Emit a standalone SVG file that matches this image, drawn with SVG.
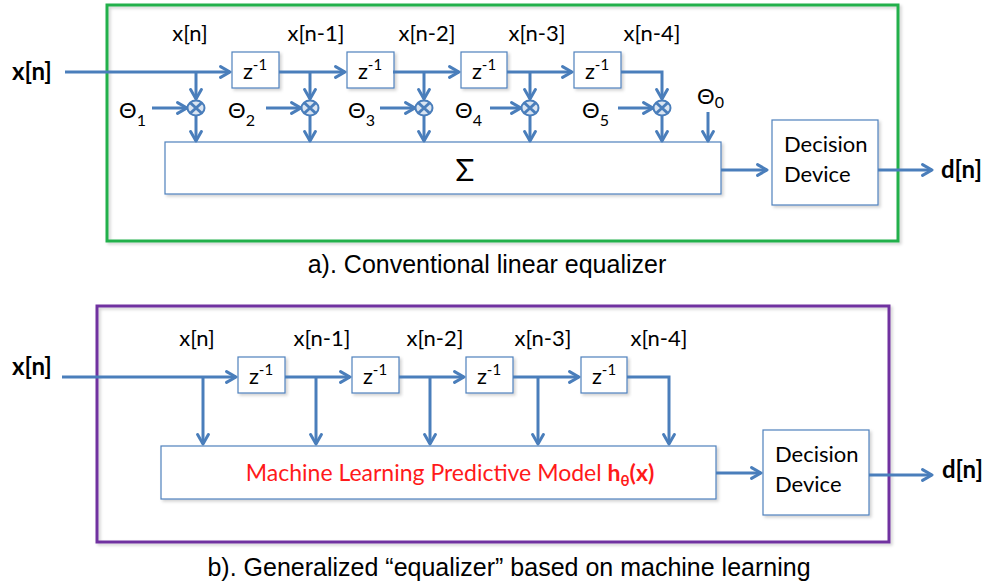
<svg xmlns="http://www.w3.org/2000/svg" width="991" height="584" viewBox="0 0 991 584">
<defs>
  <marker id="ah" viewBox="0 0 10 10" refX="8" refY="5" markerWidth="4.5" markerHeight="4.5" orient="auto" markerUnits="strokeWidth">
    <path d="M1,1 L8,5 L1,9" fill="none" stroke="#4a7ebb" stroke-width="2.2" stroke-linecap="round" stroke-linejoin="round"/>
  </marker>
  <filter id="sh" x="-5%" y="-5%" width="115%" height="120%">
    <feDropShadow dx="2" dy="2" stdDeviation="1.5" flood-color="#000" flood-opacity="0.18"/>
  </filter>
</defs>
<style>
  .lbl{font-family:"Lato","Noto Sans","Liberation Sans",sans-serif;font-size:22px;fill:#000}
  .bold{font-family:"Lato","Noto Sans","Liberation Sans",sans-serif;font-size:24px;font-weight:bold;fill:#000}
  .cap{font-family:"Liberation Sans",Arial,sans-serif;font-size:25px;fill:#000}
  .box{fill:#fff;stroke:#4f81bd;stroke-width:1.2;filter:url(#sh)}
  .wire{fill:none;stroke:#4a7ebb;stroke-width:3}
  .arr{fill:none;stroke:#4a7ebb;stroke-width:3;marker-end:url(#ah)}
  .mul{fill:#dbe5f1;stroke:#4a7ebb;stroke-width:2}
  .red{font-family:"Lato","Noto Sans","Liberation Sans",sans-serif;font-size:23px;fill:#ff1a1a}
</style>
<rect width="991" height="584" fill="#fff"/>

<!-- Panel a -->
<g id="panelA">
  <rect x="107" y="5" width="791" height="236" fill="none" stroke="#22b04b" stroke-width="3" filter="url(#sh)"/>
</g>
<g id="a_input"><text class="bold" x="12" y="80">x[n]</text></g>
<g id="a_output"><text class="bold" x="941" y="178">d[n]</text></g>

<g id="a_labels" class="lbl">
  <text x="190" y="41" text-anchor="middle">x[n]</text>
  <text x="316" y="41" text-anchor="middle">x[n-1]</text>
  <text x="427" y="41" text-anchor="middle">x[n-2]</text>
  <text x="537" y="41" text-anchor="middle">x[n-3]</text>
  <text x="652" y="41" text-anchor="middle">x[n-4]</text>
</g>

<g id="a_z1"><rect class="box" x="232" y="52" width="47" height="36"/><text class="lbl" x="255" y="79" text-anchor="middle">z<tspan font-size="15" dy="-9">-1</tspan></text></g>
<g id="a_z2"><rect class="box" x="347" y="52" width="47" height="36"/><text class="lbl" x="370" y="79" text-anchor="middle">z<tspan font-size="15" dy="-9">-1</tspan></text></g>
<g id="a_z3"><rect class="box" x="461" y="52" width="46" height="36"/><text class="lbl" x="484" y="79" text-anchor="middle">z<tspan font-size="15" dy="-9">-1</tspan></text></g>
<g id="a_z4"><rect class="box" x="574" y="52" width="47" height="36"/><text class="lbl" x="597" y="79" text-anchor="middle">z<tspan font-size="15" dy="-9">-1</tspan></text></g>

<g id="a_sum"><rect class="box" x="165" y="142" width="556" height="52"/><text x="465" y="181" text-anchor="middle" font-family="Lato,'Noto Sans',sans-serif" font-size="31">Σ</text></g>
<g id="a_decision"><rect class="box" x="772" y="120" width="106" height="85"/>
  <text class="lbl" x="784" y="152">Decision</text><text class="lbl" x="784" y="182">Device</text></g>

<g id="a_thetas" class="lbl">
  <text x="119" y="118">Θ<tspan font-size="16" dy="8">1</tspan></text>
  <text x="228" y="118">Θ<tspan font-size="16" dy="8">2</tspan></text>
  <text x="348" y="118">Θ<tspan font-size="16" dy="8">3</tspan></text>
  <text x="455" y="118">Θ<tspan font-size="16" dy="8">4</tspan></text>
  <text x="582" y="118">Θ<tspan font-size="16" dy="8">5</tspan></text>
  <text x="697" y="104">Θ<tspan font-size="16" dy="4">0</tspan></text>
</g>

<g id="a_connectors">
  <path class="arr" d="M65,72 H230"/>
  <path class="arr" d="M279,72 H345"/>
  <path class="arr" d="M393,72 H459"/>
  <path class="arr" d="M507,72 H572"/>
  <path class="arr" d="M621,72 H662 V99"/>
  <path class="arr" d="M196,72 V99"/>
  <path class="arr" d="M310,72 V99"/>
  <path class="arr" d="M424,72 V99"/>
  <path class="arr" d="M530,72 V99"/>
  <path class="arr" d="M152,108 H187"/>
  <path class="arr" d="M266,108 H301"/>
  <path class="arr" d="M380,108 H415"/>
  <path class="arr" d="M490,108 H521"/>
  <path class="arr" d="M618,108 H653"/>
  <path class="arr" d="M196,116 V141"/>
  <path class="arr" d="M310,116 V141"/>
  <path class="arr" d="M424,116 V141"/>
  <path class="arr" d="M530,116 V141"/>
  <path class="arr" d="M662,116 V141"/>
  <path class="arr" d="M708,112 V141"/>
  <path class="arr" d="M721,170 H767"/>
  <path class="arr" d="M878,170 H932"/>
</g>
<g id="a_multipliers">
  <g><ellipse class="mul" cx="196" cy="108" rx="8.5" ry="7.5"/><path class="wire" stroke-width="1.5" d="M190,102.5 L202,113.5 M202,102.5 L190,113.5"/></g>
  <g><ellipse class="mul" cx="310" cy="108" rx="8.5" ry="7.5"/><path class="wire" stroke-width="1.5" d="M304,102.5 L316,113.5 M316,102.5 L304,113.5"/></g>
  <g><ellipse class="mul" cx="424" cy="108" rx="8.5" ry="7.5"/><path class="wire" stroke-width="1.5" d="M418,102.5 L430,113.5 M430,102.5 L418,113.5"/></g>
  <g><ellipse class="mul" cx="530" cy="108" rx="8.5" ry="7.5"/><path class="wire" stroke-width="1.5" d="M524,102.5 L536,113.5 M536,102.5 L524,113.5"/></g>
  <g><ellipse class="mul" cx="662" cy="108" rx="8.5" ry="7.5"/><path class="wire" stroke-width="1.5" d="M656,102.5 L668,113.5 M668,102.5 L656,113.5"/></g>
</g>
<g id="captionA"><text class="cap" x="487" y="273" text-anchor="middle">a). Conventional linear equalizer</text></g>

<!-- Panel b -->
<g id="panelB">
  <rect x="97" y="306" width="792" height="236" fill="none" stroke="#7030a0" stroke-width="3" filter="url(#sh)"/>
</g>
<g id="b_input"><text class="bold" x="12" y="375">x[n]</text></g>
<g id="b_output"><text class="bold" x="942" y="478">d[n]</text></g>

<g id="b_labels" class="lbl">
  <text x="197" y="346" text-anchor="middle">x[n]</text>
  <text x="322" y="346" text-anchor="middle">x[n-1]</text>
  <text x="435" y="346" text-anchor="middle">x[n-2]</text>
  <text x="543" y="346" text-anchor="middle">x[n-3]</text>
  <text x="659" y="346" text-anchor="middle">x[n-4]</text>
</g>

<g id="b_z1"><rect class="box" x="238" y="357" width="47" height="36"/><text class="lbl" x="261" y="384" text-anchor="middle">z<tspan font-size="15" dy="-9">-1</tspan></text></g>
<g id="b_z2"><rect class="box" x="352" y="357" width="47" height="36"/><text class="lbl" x="375" y="384" text-anchor="middle">z<tspan font-size="15" dy="-9">-1</tspan></text></g>
<g id="b_z3"><rect class="box" x="466" y="357" width="47" height="36"/><text class="lbl" x="489" y="384" text-anchor="middle">z<tspan font-size="15" dy="-9">-1</tspan></text></g>
<g id="b_z4"><rect class="box" x="581" y="357" width="46" height="36"/><text class="lbl" x="604" y="384" text-anchor="middle">z<tspan font-size="15" dy="-9">-1</tspan></text></g>

<g id="b_model"><rect class="box" x="161" y="446" width="555" height="53"/>
  <text class="red" x="450" y="481" text-anchor="middle">Machine Learning Predictive Model <tspan font-weight="bold">h<tspan font-size="15" dy="5">θ</tspan><tspan dy="-5">(x)</tspan></tspan></text></g>
<g id="b_decision"><rect class="box" x="763" y="430" width="106" height="85"/>
  <text class="lbl" x="775" y="462">Decision</text><text class="lbl" x="775" y="492">Device</text></g>

<g id="b_connectors">
  <path class="arr" d="M62,377 H236"/>
  <path class="arr" d="M285,377 H350"/>
  <path class="arr" d="M399,377 H464"/>
  <path class="arr" d="M513,377 H579"/>
  <path class="arr" d="M627,377 H669 V444"/>
  <path class="arr" d="M203,377 V444"/>
  <path class="arr" d="M316,377 V444"/>
  <path class="arr" d="M430,377 V444"/>
  <path class="arr" d="M538,377 V444"/>
  <path class="arr" d="M716,473 H761"/>
  <path class="arr" d="M869,475 H932"/>
</g>
<g id="captionB"><text class="cap" x="509" y="576" text-anchor="middle">b). Generalized “equalizer” based on machine learning</text></g>
</svg>
